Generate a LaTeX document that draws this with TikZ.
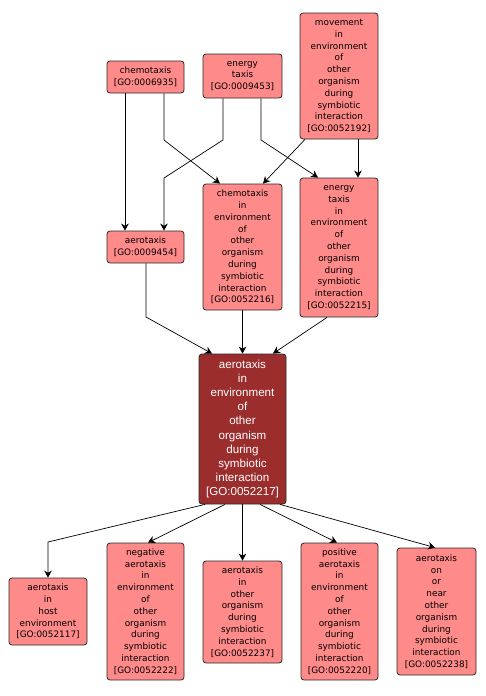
\documentclass[tikz,border=0pt]{standalone}
\usepackage{fontspec}
\setmainfont{DejaVu Sans}
\newfontfamily\centralfont{Liberation Sans}
\usetikzlibrary{calc,arrows.meta}
\definecolor{salmon}{HTML}{FF8A8A}
\definecolor{darkred}{HTML}{9B2D2D}
\definecolor{bordergray}{HTML}{2A2A2A}
\tikzset{
  goterm/.style={draw=bordergray, line width=0.8pt, fill=salmon, rounded corners=3pt,
    inner sep=0pt, align=center, text=black,
    font=\fontsize{8.9}{11.8}\selectfont},
  gocentral/.style={draw=bordergray, line width=0.8pt, fill=darkred, rounded corners=3pt,
    inner sep=0pt, align=center, text=white,
    font=\centralfont\fontsize{11.6}{14.05}\selectfont},
  edge/.style={draw=black, line width=0.7pt, -{Stealth[length=7pt,width=7.5pt,inset=2.2pt]}}
}
\begin{document}
\begin{tikzpicture}[x=1pt,y=-1pt]
\useasboundingbox (0,0) rectangle (485,696);
\fill[white] (0,0) rectangle (485,696);
% top row
\node[goterm, minimum width=77, minimum height=32] (c1) at (145.5,77) {chemotaxis\\{}[GO:0006935]};
\node[goterm, minimum width=79, minimum height=44] (e1) at (242.5,76) {energy\\taxis\\{}[GO:0009453]};
\node[goterm, minimum width=78, minimum height=126] (m1) at (339,76) {movement\\in\\environment\\of\\other\\organism\\during\\symbiotic\\interaction\\{}[GO:0052192]};
% second row
\node[goterm, minimum width=77, minimum height=32] (a1) at (145.5,247) {aerotaxis\\{}[GO:0009454]};
\node[goterm, minimum width=79, minimum height=126] (c2) at (242.5,247) {chemotaxis\\in\\environment\\of\\other\\organism\\during\\symbiotic\\interaction\\{}[GO:0052216]};
\node[goterm, minimum width=78, minimum height=139] (e2) at (339,247.5) {energy\\taxis\\in\\environment\\of\\other\\organism\\during\\symbiotic\\interaction\\{}[GO:0052215]};
% central
\node[gocentral, minimum width=87, minimum height=150] (ct) at (242.5,429) {aerotaxis\\in\\environment\\of\\other\\organism\\during\\symbiotic\\interaction\\{}[GO:0052217]};
% bottom row
\node[goterm, minimum width=78, minimum height=67] (h) at (48,611.5) {aerotaxis\\in\\host\\environment\\{}[GO:0052117]};
\node[goterm, minimum width=77, minimum height=137] (neg) at (145.5,611.5) {negative\\aerotaxis\\in\\environment\\of\\other\\organism\\during\\symbiotic\\interaction\\{}[GO:0052222]};
\node[goterm, minimum width=79, minimum height=102] (oth) at (242.5,612) {aerotaxis\\in\\other\\organism\\during\\symbiotic\\interaction\\{}[GO:0052237]};
\node[goterm, minimum width=77, minimum height=137] (pos) at (339.5,611.5) {positive\\aerotaxis\\in\\environment\\of\\other\\organism\\during\\symbiotic\\interaction\\{}[GO:0052220]};
\node[goterm, minimum width=79, minimum height=127] (near) at (436.5,611.5) {aerotaxis\\on\\or\\near\\other\\organism\\during\\symbiotic\\interaction\\{}[GO:0052238]};
% edges
\draw[edge] ($(c1.south)+(-20.5,0)$) -- ($(a1.north)+(-20.5,0)$);
\draw[edge] ($(c1.south)+(18.5,0)$) -- (164,140) -- ($(c2.north)+(-22.5,0)$);
\draw[edge] ($(e1.south)+(-19.5,0)$) -- (223,140) -- (164,178) -- ($(a1.north)+(18.5,0)$);
\draw[edge] ($(e1.south)+(18.5,0)$) -- (261,140) -- ($(e2.north)+(-21,0)$);
\draw[edge] ($(m1.south)+(-34,0)$) -- ($(c2.north)+(20.5,0)$);
\draw[edge] ($(m1.south)+(19,0)$) -- ($(e2.north)+(19,0)$);
\draw[edge] ($(a1.south)+(0.5,0)$) -- (146,317) -- ($(ct.north)+(-30.5,0)$);
\draw[edge] (c2.south) -- (ct.north);
\draw[edge] ($(e2.south)+(-12,0)$) -- ($(ct.north)+(30.5,0)$);
\draw[edge] ($(ct.south)+(-37.5,0)$) -- (48,542) -- (h.north);
\draw[edge] ($(ct.south)+(-17.5,0)$) -- ($(neg.north)+(2.5,0)$);
\draw[edge] (ct.south) -- (oth.north);
\draw[edge] ($(ct.south)+(17.5,0)$) -- ($(pos.north)+(-2.5,0)$);
\draw[edge] ($(ct.south)+(37.5,0)$) -- ($(near.north)+(-1.5,0)$);
\end{tikzpicture}
\end{document}
